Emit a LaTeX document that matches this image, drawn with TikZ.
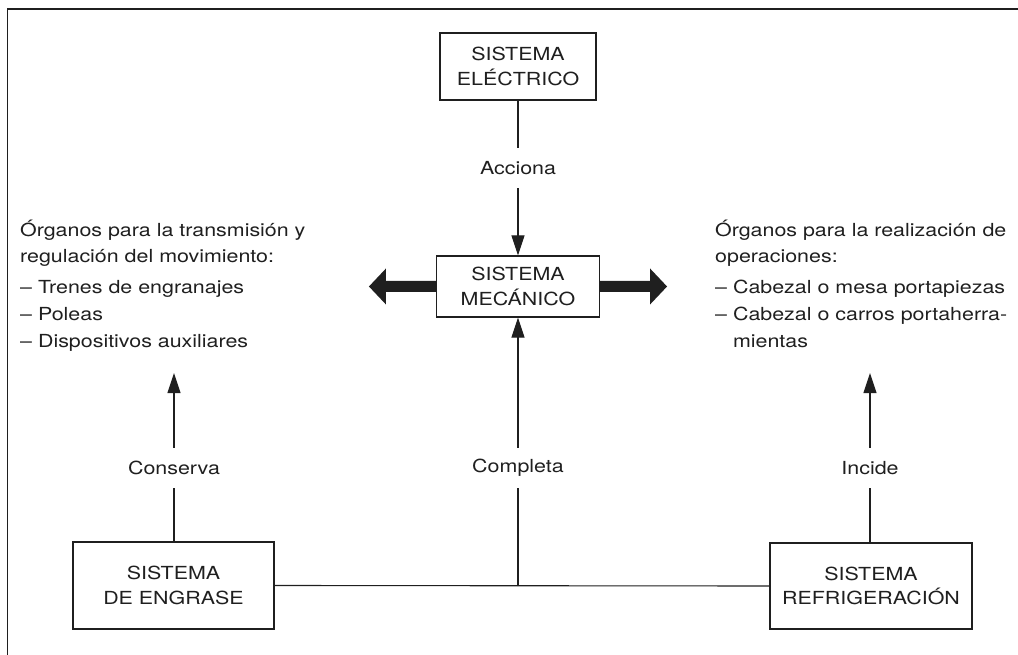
\documentclass[tikz,border=0pt]{standalone}
\usepackage{fontspec}
\setmainfont{TeX Gyre Heros}[FakeStretch=1.19]
\usetikzlibrary{arrows.meta}
\definecolor{ink}{gray}{0.12}
\begin{document}
\begin{tikzpicture}[x={(1pt,0)}, y={(0,-1pt)},
  every node/.style={text=ink, font=\fontsize{18pt}{24.5pt}\selectfont},
  sysbox/.style={draw=ink, line width=1.1pt, inner sep=0pt, align=center},
  lbl/.style={inner sep=0pt, minimum height=40pt, minimum width=20pt},
  txt/.style={anchor=base west, inner sep=0pt},
  conn/.style={draw=ink, line width=1.1pt},
  arr/.style={conn, -{Triangle[length=20pt,width=13pt]}},
  bigarrow/.style={fill=ink}]
\useasboundingbox (0,0) rectangle (1018,655);

% partial frame
\coordinate (fa) at (1018,9);
\coordinate (fb) at (7.5,9);
\coordinate (fc) at (7.5,655);
\draw[conn] (fa) -- (fb) -- (fc);

% systems
\node[sysbox, minimum width=156pt, minimum height=67pt] (elec) at (518,66.5) {SISTEMA\\EL\'ECTRICO};
\node[sysbox, minimum width=163pt, minimum height=61pt] (mec) at (518,286.5) {SISTEMA\\MEC\'ANICO};
\node[sysbox, minimum width=201pt, minimum height=87pt] (eng) at (173.5,585.5) {SISTEMA\\DE ENGRASE};
\node[sysbox, minimum width=202pt, minimum height=86pt] (ref) at (871,586) {SISTEMA\\REFRIGERACI\'ON};

% relation labels
\node[lbl] (acc) at (518,168) {Acciona};
\node[lbl] (cons) at (174,468) {Conserva};
\node[lbl] (comp) at (518,468) {Completa};
\node[lbl] (inc) at (870,468) {Incide};

% connectors
\draw[conn] (elec) -- (acc);
\draw[arr] (acc) -- (mec);
\coordinate (jn) at (518,586);
\draw[conn] (eng.east) -- (ref.west);
\draw[conn] (jn) -- (comp);
\draw[arr] (comp) -- (mec);
\coordinate (ltip) at (174,373);
\coordinate (rtip) at (870,373);
\draw[conn] (eng.north -| cons) -- (cons);
\draw[arr] (cons) -- (ltip);
\draw[conn] (ref.north -| inc) -- (inc);
\draw[arr] (inc) -- (rtip);

% wide arrows out of the mechanical system
\fill[bigarrow] (mec.west) ++(0,5.5) -- ++(-50,0) -- ++(0,12.5) -- ++(-17,-18)
  -- ++(17,-18) -- ++(0,12.5) -- ++(50,0) -- cycle;
\fill[bigarrow] (mec.east) ++(0,5.5) -- ++(50,0) -- ++(0,12.5) -- ++(17,-18)
  -- ++(-17,-18) -- ++(0,12.5) -- ++(-50,0) -- cycle;

% left text block
\node[txt] (l1) at (20,236.5) {\'Organos para la transmisi\'on y};
\node[txt] (l2) at (20,263) {regulaci\'on del movimiento:};
\node[txt] (l3) at (20,294) {-- Trenes de engranajes};
\node[txt] (l4) at (20,320.5) {-- Poleas};
\node[txt] (l5) at (20,347) {-- Dispositivos auxiliares};

% right text block
\node[txt] (r1) at (715,236.5) {\'Organos para la realizaci\'on de};
\node[txt] (r2) at (715,263) {operaciones:};
\node[txt] (r3) at (715,294) {-- Cabezal o mesa portapiezas};
\node[txt] (r4) at (715,320.5) {-- Cabezal o carros portaherra-};
\node[txt] (r5) at (715,347) {\phantom{-- }mientas};
\end{tikzpicture}
\end{document}
